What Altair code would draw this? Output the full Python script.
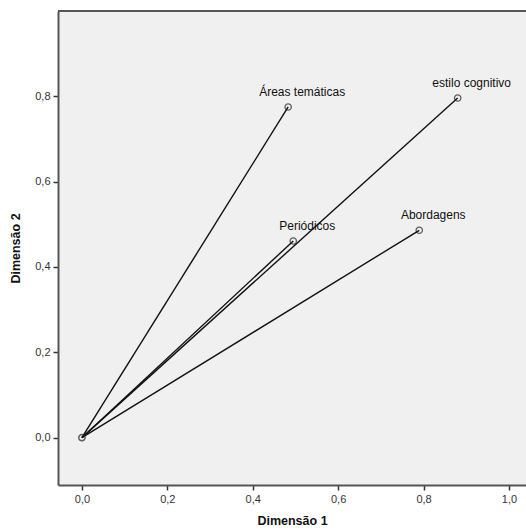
import altair as alt
import pandas as pd

labels = ["Áreas temáticas", "estilo cognitivo", "Periódicos", "Abordagens"]
dim1 = [0.483, 0.880, 0.495, 0.790]
dim2 = [0.775, 0.796, 0.461, 0.486]

df = pd.DataFrame({"label": labels, "d1": dim1, "d2": dim2,
                   "o1": [0.0] * 4, "o2": [0.0] * 4})
origin = pd.DataFrame({"d1": [0.0], "d2": [0.0]})

fmt = "replace(format(datum.value, '.1f'), '.', ',')"
xs = alt.Scale(domain=[-0.056, 1.04], nice=False, zero=False)
ys = alt.Scale(domain=[-0.111, 1.0], nice=False, zero=False)
common = dict(grid=False, domain=True, domainColor="#555", domainWidth=2,
              tickColor="#333", tickSize=5, tickWidth=1.5,
              labelColor="#333", labelFontSize=11, labelFont="Liberation Sans",
              titleFont="Liberation Sans", titleFontSize=12.5, titleFontWeight="bold",
              titleColor="#111", labelPadding=3)
xax = alt.Axis(title="Dimensão 1", values=[0, 0.2, 0.4, 0.6, 0.8, 1.0], labelExpr=fmt,
               titlePadding=10, **common)
yax = alt.Axis(title="Dimensão 2", values=[0, 0.2, 0.4, 0.6, 0.8], labelExpr=fmt,
               titlePadding=12, **common)

base = alt.Chart(df)
rules = base.mark_rule(color="#111", strokeWidth=1.4).encode(
    x=alt.X("o1:Q", scale=xs, axis=xax),
    y=alt.Y("o2:Q", scale=ys, axis=yax),
    x2="d1:Q", y2="d2:Q")
pts = base.mark_point(shape="circle", size=40, filled=False, color="#222", strokeWidth=1.3).encode(
    x=alt.X("d1:Q", scale=xs), y=alt.Y("d2:Q", scale=ys))
opt = alt.Chart(origin).mark_point(shape="circle", size=40, filled=False, color="#222", strokeWidth=1.5).encode(
    x=alt.X("d1:Q", scale=xs), y=alt.Y("d2:Q", scale=ys))
txt = base.mark_text(font="Liberation Sans", fontSize=12, color="#111", dx=14, dy=-8,
                     baseline="bottom", align="center").encode(
    x=alt.X("d1:Q", scale=xs), y=alt.Y("d2:Q", scale=ys), text="label:N")
topline = alt.Chart(origin).mark_rule(color="#555", strokeWidth=2).encode(
    x=alt.value(0), x2=alt.value(468), y=alt.value(0))

chart = alt.layer(rules, pts, opt, txt, topline).properties(
    width=468, height=474,
    autosize=alt.AutoSizeParams(type="none"),
    padding={"left": 58, "top": 11, "right": 0, "bottom": 46},
    background="white",
).configure_view(fill="#F0F0F0", strokeWidth=0)

chart.save("out.html", embed_options={"renderer": "svg", "actions": False})
